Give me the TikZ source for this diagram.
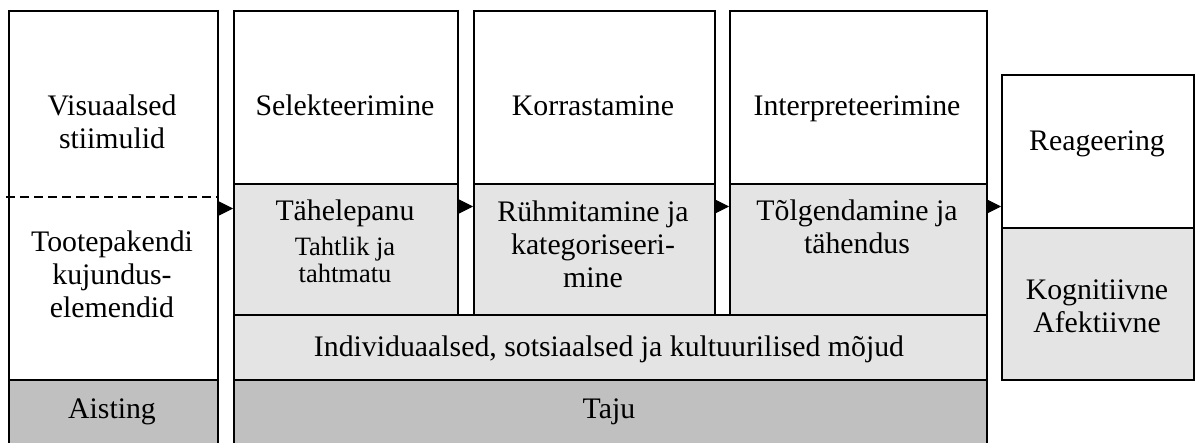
\documentclass[tikz,border=0pt]{standalone}
\usepackage{fontspec}
\setmainfont{Liberation Serif}
\usetikzlibrary{arrows.meta,calc}
\definecolor{lightgrey}{RGB}{228,228,228}
\definecolor{darkgrey}{RGB}{192,192,192}

\begin{document}
\begin{tikzpicture}[
	x=1pt, y=-1pt,
	box/.style={draw, line width=1.5pt, anchor=north west, inner sep=0pt, fill=white},
	light box/.style={box, fill=lightgrey},
	dark box/.style={box, fill=darkgrey},
	txt/.style={anchor=base, align=center, inner sep=0pt, font=\fontsize{29.8}{33}\selectfont},
	small txt/.style={txt, font=\fontsize{26.5}{27}\selectfont},
	arr/.style={line width=1pt, -{Triangle[length=15pt,width=15pt]}},
	dash line/.style={line width=1.2pt, dash pattern=on 9pt off 5pt}
	]

	\useasboundingbox (0,0) rectangle (1196,442);

	\node[box, minimum width=209pt, minimum height=369pt] (stim) at (8,10) {};
	\node[dark box, minimum width=209pt, minimum height=67pt] (ais) at (8,379) {};

	\node[box, minimum width=224pt, minimum height=173pt] (sel) at (233,10) {};
	\node[box, minimum width=241pt, minimum height=173pt] (kor) at (473,10) {};
	\node[box, minimum width=257pt, minimum height=173pt] (int) at (729,10) {};
	\node[light box, minimum width=224pt, minimum height=131pt] (tah) at (233,183) {};
	\node[light box, minimum width=241pt, minimum height=131pt] (ryh) at (473,183) {};
	\node[light box, minimum width=257pt, minimum height=131pt] (tol) at (729,183) {};
	\node[light box, minimum width=753pt, minimum height=65pt] (ind) at (233,314) {};
	\node[dark box, minimum width=753pt, minimum height=67pt] (taju) at (233,379) {};

	\node[box, minimum width=192pt, minimum height=153pt] (rea) at (1001,74) {};
	\node[light box, minimum width=192pt, minimum height=152pt] (kog) at (1001,227) {};

	\draw[dash line] ($(stim.north west)+(-2,187)$) -- ($(stim.north east)+(0,187)$);

	\node[txt] (t-vis) at (112,148) {Visuaalsed\\stiimulid};
	\node[txt] (t-pak) at (112,317) {Tootepakendi\\kujundus-\\elemendid};
	\node[txt] (t-ais) at (112,418) {Aisting};
	\node[txt] (t-sel) at (345,115) {Selekteerimine};
	\node[txt] (t-kor) at (593,115) {Korrastamine};
	\node[txt] (t-int) at (857,115) {Interpreteerimine};
	\node[txt] (t-tah) at (345,220) {Tähelepanu};
	\node[small txt] (t-tahtlik) at (345,282) {Tahtlik ja\\tahtmatu};
	\node[txt] (t-ryh) at (593,287) {Rühmitamine ja\\kategoriseeri-\\mine};
	\node[txt] (t-tol) at (857,253) {Tõlgendamine ja\\tähendus};
	\node[txt] (t-ind) at (609,356) {Individuaalsed, sotsiaalsed ja kultuurilised mõjud};
	\node[txt] (t-taju) at (609,418) {Taju};
	\node[txt] (t-rea) at (1097,150) {Reageering};
	\node[txt] (t-kog) at (1097,332) {Kognitiivne\\Afektiivne};

	\draw[arr] ($(stim.east |- sel.south)+(0,24)$) -- ($(sel.south west)+(0,24)$);
	\foreach \a/\b in {sel/kor, kor/int, int/rea}
		\draw[arr] ($(\a.south east)+(0,22)$) -- ($(\a.south east -| \b.west)+(0,22)$);
\end{tikzpicture}
\end{document}
